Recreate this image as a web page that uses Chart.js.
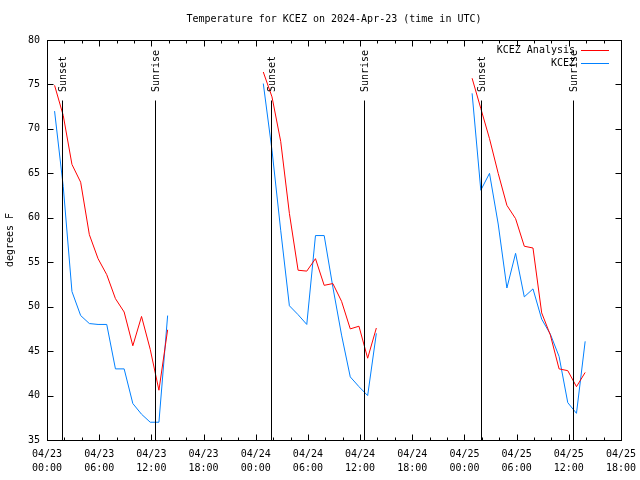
<!DOCTYPE html>
<html>
<head>
<meta charset="utf-8">
<title>Temperature for KCEZ</title>
<script src="https://cdn.jsdelivr.net/npm/chart.js@4.4.1/dist/chart.umd.min.js"></script>
<style>
  html, body { margin: 0; padding: 0; background: #fff; }
  canvas { display: block; }
</style>
</head>
<body>
<canvas id="myChart" width="640" height="480"></canvas>
<script>
// hours since 2024-04-23 00:00 UTC (19 and 43 only mark the gaps between nights)
const hours = [
  0.87, 1.87, 2.87, 3.87, 4.87, 5.87, 6.87, 7.87, 8.87, 9.87, 10.87, 11.87, 12.87, 13.87,
  19,
  24.87, 25.87, 26.87, 27.87, 28.87, 29.87, 30.87, 31.87, 32.87, 33.87, 34.87, 35.87, 36.87, 37.87,
  43,
  48.88, 49.88, 50.88, 51.88, 52.88, 53.88, 54.88, 55.88, 56.88, 57.88, 58.88, 59.88, 60.88, 61.88
];
const analysisTemps = [
  74.9, 71.5, 66.0, 64.0, 58.1, 55.4, 53.6, 50.9, 49.4, 45.6, 48.9, 45.2, 40.6, 47.4,
  null,
  76.4, 73.6, 68.6, 60.5, 54.1, 54.0, 55.4, 52.4, 52.6, 50.6, 47.5, 47.8, 44.2, 47.6,
  null,
  75.7, 72.3, 68.9, 65.0, 61.4, 59.9, 56.8, 56.6, 49.3, 46.8, 43.0, 42.8, 41.0, 42.6
];
const kcezTemps = [
  72.0, 63.5, 51.7, 49.0, 48.1, 48.0, 48.0, 43.0, 43.0, 39.1, 37.9, 37.0, 37.0, 49.0,
  null,
  75.1, 67.6, 58.6, 50.1, 49.1, 48.0, 58.0, 58.0, 52.2, 46.8, 42.1, 41.0, 40.0, 47.0,
  null,
  74.0, 63.1, 65.0, 59.3, 52.1, 56.0, 51.1, 52.0, 48.6, 46.9, 44.4, 39.2, 38.0, 46.1
];
const sunsetHours = [1.78, 25.79, 49.94];
const sunriseHours = [12.42, 36.45, 60.48];
const xTickDays = ["04/23", "04/24", "04/25"];
const seriesLabels = ["KCEZ Analysis", "KCEZ"];
const seriesColors = ["#ff0000", "#0080ff"];
const chartTitle = "Temperature for KCEZ on 2024-Apr-23 (time in UTC)";

const FONT = "'DejaVu Sans Mono', 'Liberation Mono', monospace";
Chart.defaults.font.family = FONT;
Chart.defaults.font.size = 10;
Chart.defaults.color = "#000";

function toPoints(temps) {
  return hours.map((h, i) => ({ x: h, y: temps[i] }));
}

// gnuplot look: frame, inward tics, sunset/sunrise markers, legend, title
const gnuplotFrame = {
  id: "gnuplotFrame",
  afterDatasetsDraw(chart) {
    const { ctx, chartArea: a, scales: { x, y } } = chart;
    const L = Math.floor(a.left) + 0.5, R = Math.floor(a.right) + 0.5;
    const T = Math.floor(a.top) + 0.5, B = Math.floor(a.bottom) + 0.5;
    ctx.save();
    ctx.strokeStyle = "#000";
    ctx.fillStyle = "#000";
    ctx.lineWidth = 1;

    // sunset / sunrise lines
    const lineTop = Math.round(a.bottom - 0.85 * (a.bottom - a.top)) + 0.5;
    ctx.font = "10px " + FONT;
    const marks = sunsetHours.map(h => [h, "Sunset"]).concat(sunriseHours.map(h => [h, "Sunrise"]));
    marks.forEach(([h, txt]) => {
      const px = Math.round(x.getPixelForValue(h)) + 0.5;
      ctx.beginPath();
      ctx.moveTo(px, B);
      ctx.lineTo(px, lineTop);
      ctx.stroke();
      ctx.save();
      ctx.translate(px + 1, a.bottom - 0.87 * (a.bottom - a.top));
      ctx.rotate(-Math.PI / 2);
      ctx.textAlign = "left";
      ctx.textBaseline = "middle";
      ctx.fillText(txt, 0, 0);
      ctx.restore();
    });

    // frame
    ctx.strokeRect(L, T, R - L, B - T);

    // tics
    ctx.beginPath();
    y.ticks.forEach(t => {
      const py = Math.round(y.getPixelForValue(t.value)) + 0.5;
      ctx.moveTo(L, py); ctx.lineTo(L + 6, py);
      ctx.moveTo(R, py); ctx.lineTo(R - 6, py);
    });
    for (let h = x.min; h <= x.max; h += 2) {
      const px = Math.round(x.getPixelForValue(h)) + 0.5;
      const len = h % 6 === 0 ? 6 : 3;
      ctx.moveTo(px, B); ctx.lineTo(px, B - len);
      ctx.moveTo(px, T); ctx.lineTo(px, T + len);
    }
    ctx.stroke();

    // legend
    ctx.textAlign = "right";
    ctx.textBaseline = "middle";
    chart.data.datasets.forEach((ds, i) => {
      const ly = Math.round(a.top + 10 + i * 12.5) + 0.5;
      ctx.fillStyle = "#000";
      ctx.fillText(ds.label, a.right - 46, ly);
      ctx.strokeStyle = ds.borderColor;
      ctx.beginPath();
      ctx.moveTo(a.right - 40, ly);
      ctx.lineTo(a.right - 12, ly);
      ctx.stroke();
    });

    // title
    ctx.fillStyle = "#000";
    ctx.textAlign = "center";
    ctx.fillText(chartTitle, (a.left + a.right) / 2, 19);
    ctx.restore();
  }
};

const ctx = document.getElementById("myChart");
new Chart(ctx, {
  type: "line",
  data: {
    datasets: [
      {
        label: seriesLabels[0],
        data: toPoints(analysisTemps),
        borderColor: seriesColors[0],
        borderWidth: 1,
        pointRadius: 0,
        tension: 0,
      },
      {
        label: seriesLabels[1],
        data: toPoints(kcezTemps),
        borderColor: seriesColors[1],
        borderWidth: 1,
        pointRadius: 0,
        tension: 0,
      },
    ],
  },
  options: {
    responsive: false,
    animation: false,
    devicePixelRatio: 1,
    layout: { padding: { top: 40, right: 19, left: 0, bottom: 0 } },
    plugins: {
      legend: { display: false },
      title: { display: false },
      tooltip: { enabled: false },
    },
    scales: {
      x: {
        type: "linear",
        min: 0,
        max: 66,
        grid: { display: false, drawTicks: false },
        border: { display: false },
        ticks: {
          stepSize: 6,
          autoSkip: false,
          maxRotation: 0,
          padding: 7,
          font: { size: 10, lineHeight: 1.4 },
          callback: (v) => {
            const hh = String(v % 24).padStart(2, "0");
            return [xTickDays[Math.floor(v / 24)] || "04/25", hh + ":00"];
          },
        },
        afterFit: (scale) => {
          scale.height = 40;
          scale.paddingLeft = 0;
          scale.paddingRight = 0;
        },
      },
      y: {
        min: 35,
        max: 80,
        grid: { display: false, drawTicks: false },
        border: { display: false },
        ticks: { stepSize: 5, padding: 7 },
        title: {
          display: true,
          text: "degrees F",
          font: { size: 10 },
          padding: { top: 4, bottom: 0 },
        },
        afterFit: (scale) => { scale.width = 47; },
      },
    },
  },
  plugins: [gnuplotFrame],
});
</script>
</body>
</html>
